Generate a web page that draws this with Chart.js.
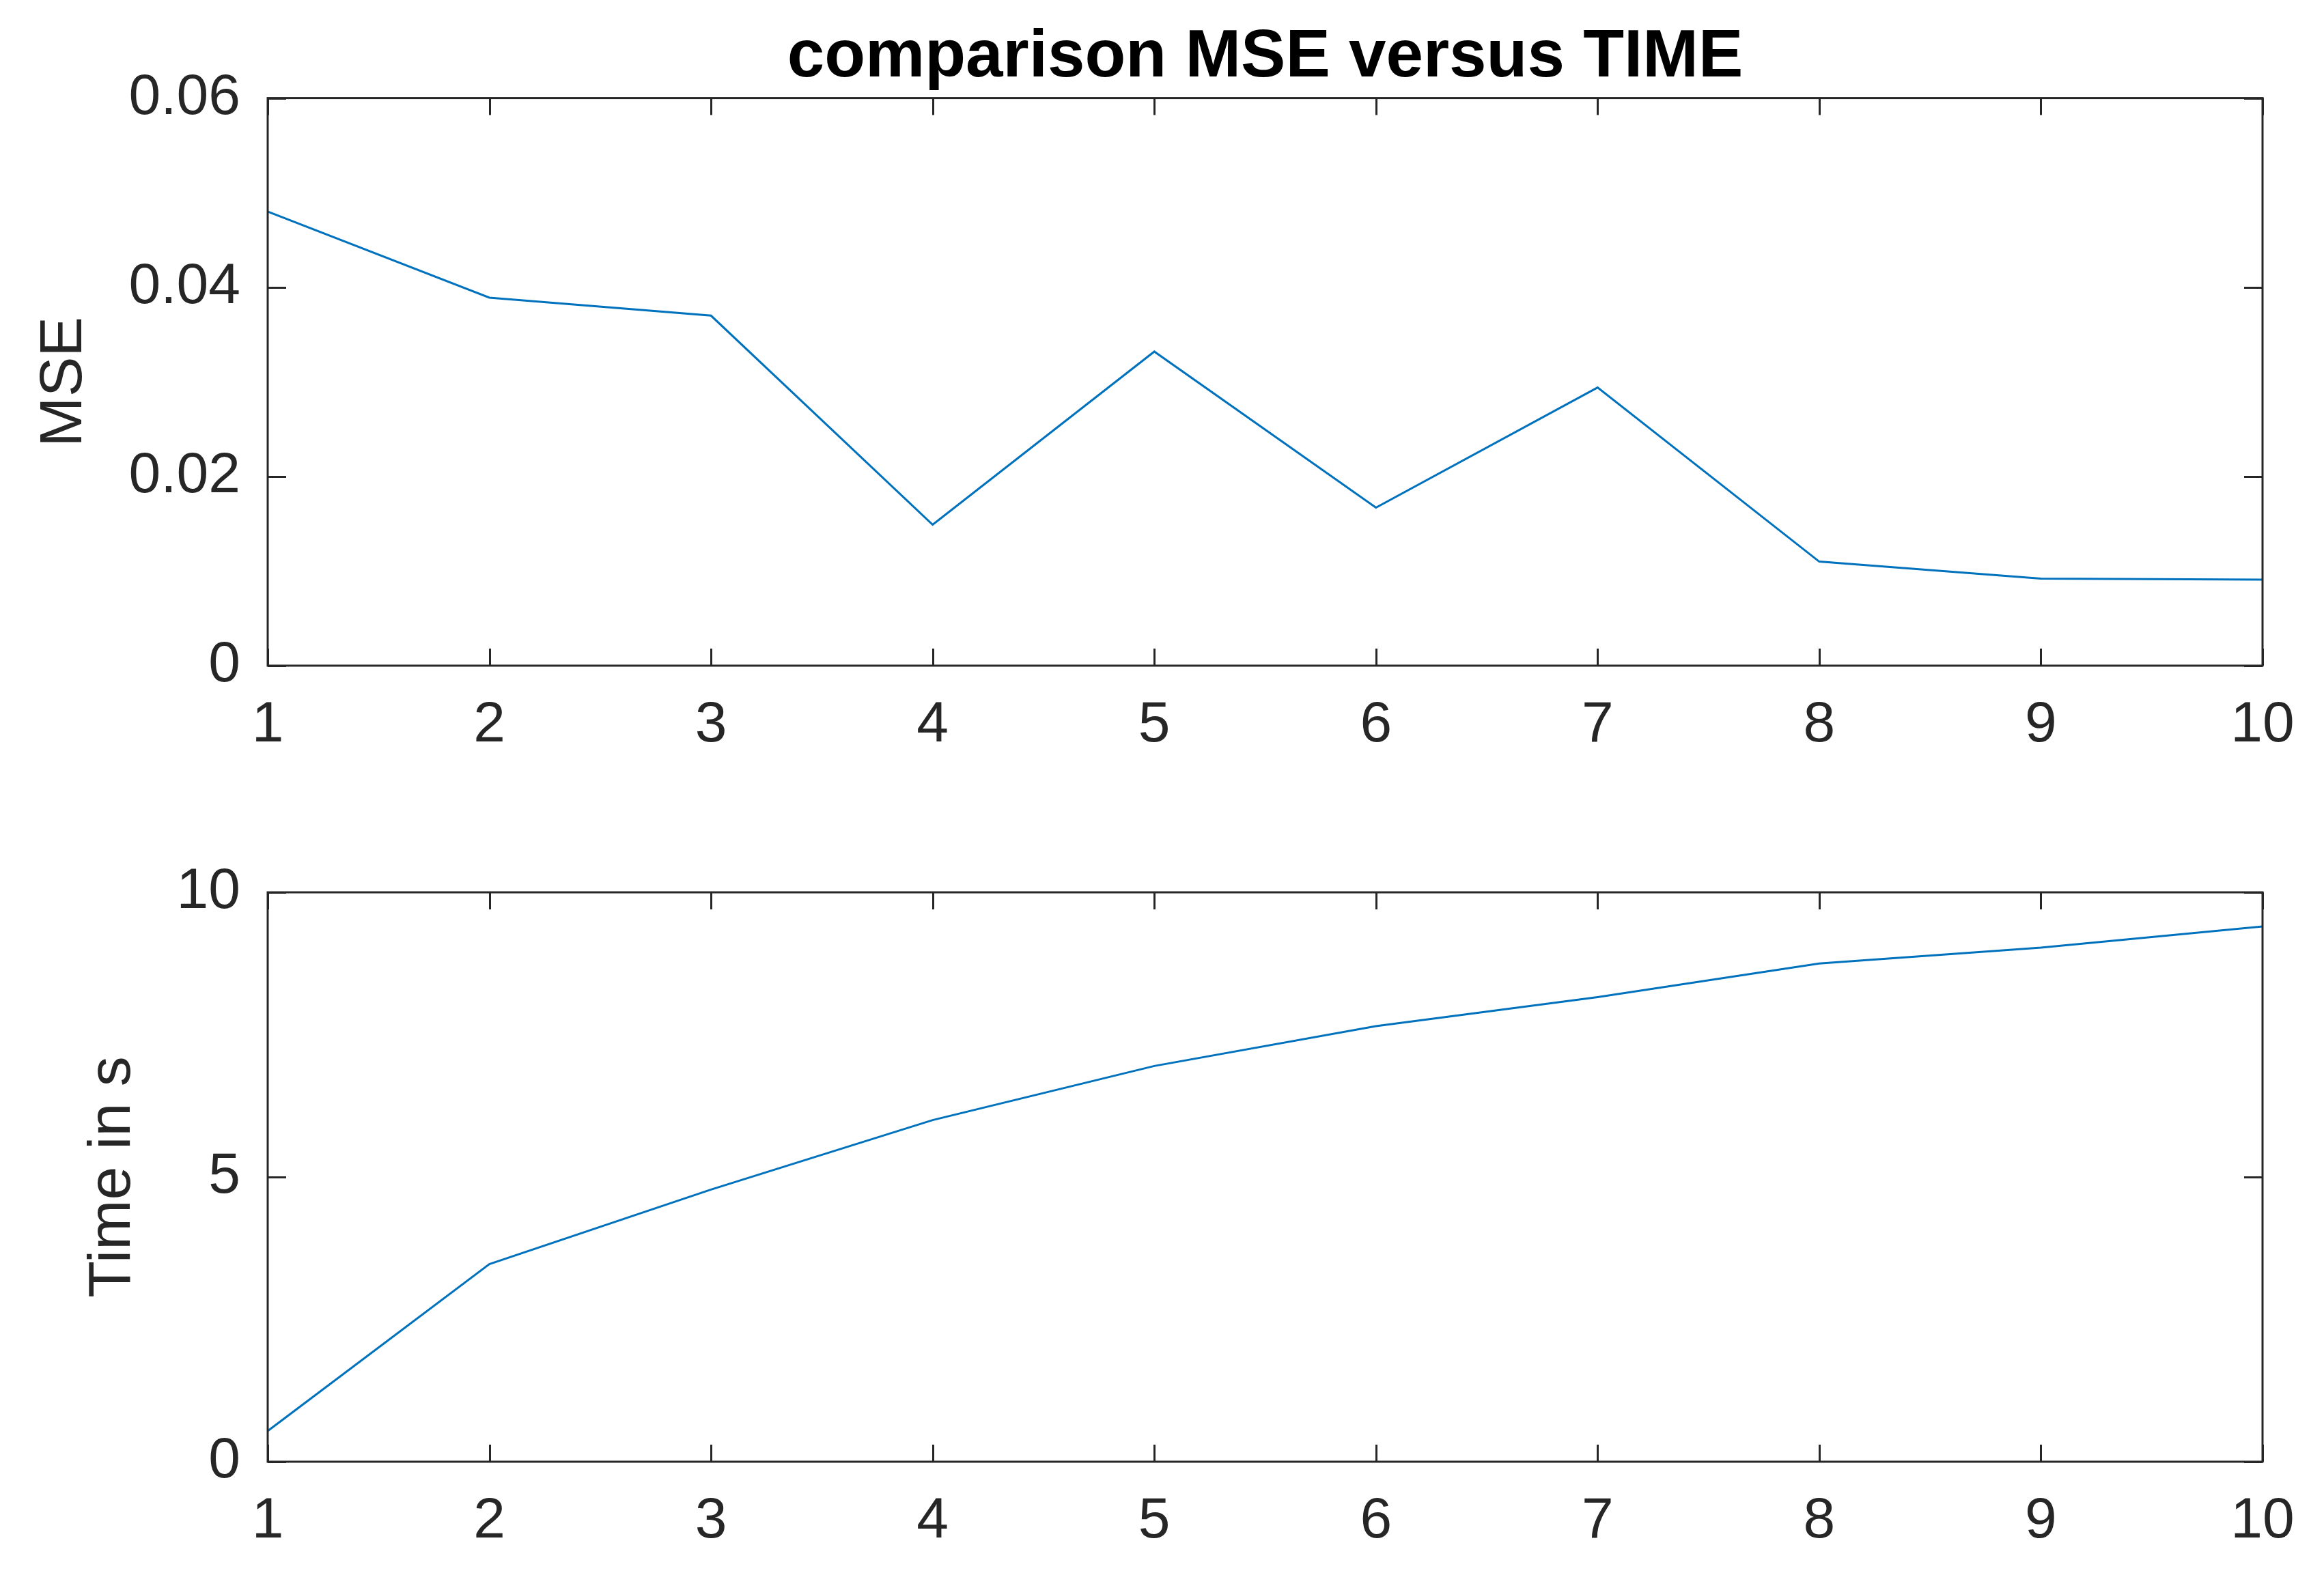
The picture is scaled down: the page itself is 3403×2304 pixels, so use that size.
<!DOCTYPE html>
<html>
<head>
<meta charset="utf-8">
<title>comparison MSE versus TIME</title>
<script src="https://cdn.jsdelivr.net/npm/chart.js@4.4.1/dist/chart.umd.min.js"></script>
<style>
  html, body { margin: 0; padding: 0; background: #fff; }
  #wrap { position: relative; width: 3403px; height: 2304px; }
  canvas { position: absolute; left: 0; }
  #mseChart { top: 0; }
  #timeChart { top: 1152px; }
</style>
</head>
<body>
<div id="wrap">
  <canvas id="mseChart" width="3403" height="1152"></canvas>
  <canvas id="timeChart" width="3403" height="1152"></canvas>
</div>
<script>
// data
const runs = [1, 2, 3, 4, 5, 6, 7, 8, 9, 10];
const mseValues = [0.048, 0.0389, 0.0370, 0.0149, 0.0332, 0.0167, 0.0294, 0.0110, 0.0092, 0.0091];
const timeValues = [0.54, 3.47, 4.78, 6.0, 6.95, 7.65, 8.16, 8.75, 9.03, 9.40];
const mseTicks = [0, 0.02, 0.04, 0.06];
const timeTicks = [0, 5, 10];

const FONT = '"Liberation Sans", Arial, Helvetica, sans-serif';
const AXIS_COLOR = '#262626';
const LINE_COLOR = '#0072BD';

const toPoints = (ys) => runs.map((x, i) => ({ x: x, y: ys[i] }));

// MATLAB-like box with inward tick marks on all four sides
const boxTicks = {
    id: 'boxTicks',
    afterDraw(chart) {
        const { ctx, chartArea: a, scales } = chart;
        ctx.save();
        ctx.strokeStyle = AXIS_COLOR;
        ctx.lineWidth = 3;
        ctx.beginPath();
        scales.x.ticks.forEach((t) => {
            const px = Math.round(scales.x.getPixelForValue(t.value)) + 0.5;
            ctx.moveTo(px, a.bottom);
            ctx.lineTo(px, a.bottom - 25);
            ctx.moveTo(px, a.top);
            ctx.lineTo(px, a.top + 25);
        });
        scales.y.ticks.forEach((t) => {
            const py = Math.round(scales.y.getPixelForValue(t.value)) + 0.5;
            ctx.moveTo(a.left, py);
            ctx.lineTo(a.left + 27, py);
            ctx.moveTo(a.right, py);
            ctx.lineTo(a.right - 27, py);
        });
        ctx.stroke();
        ctx.strokeRect(a.left, a.top, a.right - a.left, a.bottom - a.top);
        ctx.restore();
    }
};

function makeChart(el, values, yTicks, yLabel, opts) {
    return new Chart(el, {
        type: 'line',
        data: {
            datasets: [{
                data: toPoints(values),
                borderColor: LINE_COLOR,
                borderWidth: 3,
                pointRadius: 0,
                tension: 0,
                fill: false
            }]
        },
        options: {
            responsive: false,
            animation: false,
            events: [],
            layout: { padding: opts.padding },
            plugins: {
                legend: { display: false },
                tooltip: { enabled: false },
                title: opts.title
            },
            scales: {
                x: {
                    type: 'linear',
                    min: 1,
                    max: 10,
                    afterFit: (s) => { s.height = 130; },
                    ticks: {
                        stepSize: 1,
                        padding: 37,
                        color: AXIS_COLOR,
                        font: { family: FONT, size: 84 }
                    },
                    grid: { display: false, drawTicks: false },
                    border: { display: false }
                },
                y: {
                    min: yTicks[0],
                    max: yTicks[yTicks.length - 1],
                    afterFit: (s) => { s.width = 392; },
                    afterBuildTicks: (s) => { s.ticks = yTicks.map((v) => ({ value: v })); },
                    ticks: {
                        padding: 40,
                        color: AXIS_COLOR,
                        font: { family: FONT, size: 84 },
                        callback: (v) => v === 0 ? '0' : (yTicks[yTicks.length - 1] < 1 ? v.toFixed(2) : String(v))
                    },
                    title: {
                        display: true,
                        text: yLabel,
                        color: AXIS_COLOR,
                        font: { family: FONT, size: 88 },
                        padding: { top: opts.yTitlePad, bottom: 0 }
                    },
                    grid: { display: false, drawTicks: false },
                    border: { display: false }
                }
            }
        },
        plugins: [boxTicks]
    });
}

makeChart(document.getElementById('mseChart'), mseValues, mseTicks, 'MSE', {
    padding: { left: 0, right: 90, top: 26, bottom: 47 },
    yTitlePad: 42,
    title: {
        display: true,
        fullSize: false,
        text: 'comparison MSE versus TIME',
        color: '#000',
        font: { family: FONT, size: 98, weight: 'bold', lineHeight: 1.2 },
        padding: { top: 0, bottom: 0 }
    }
});

makeChart(document.getElementById('timeChart'), timeValues, timeTicks, 'Time in s', {
    padding: { left: 0, right: 90, top: 155, bottom: 33 },
    yTitlePad: 113,
    title: { display: false }
});
</script>
</body>
</html>
